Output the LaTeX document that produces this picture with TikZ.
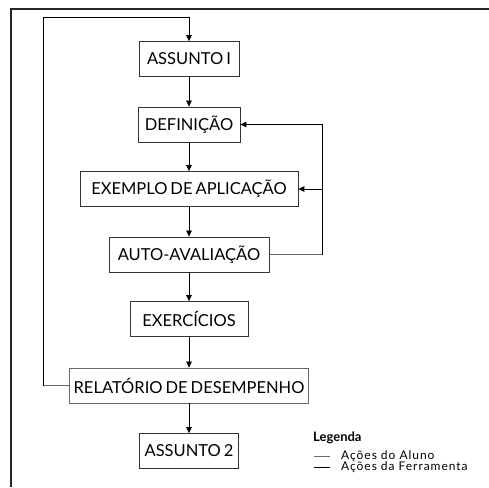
\documentclass[tikz,border=0pt]{standalone}
\usepackage{fontspec}
\setmainfont{Lato}
\usetikzlibrary{arrows.meta}
\newcommand\fontepasso{\fontsize{16.5}{18}\selectfont\spaceskip 3pt plus 1pt\relax}

\begin{document}
\begin{tikzpicture}[x=1pt,y=-1pt,
    passo/.style={draw=black!80, line width=.8pt, minimum height=35pt, inner sep=0pt,
      font=\fontepasso},
    seta/.style={-{Triangle[length=6pt,width=5.5pt]}, line width=.7pt},
    aluno/.style={draw=black!60, line width=.8pt},
    item/.style={anchor=west, inner sep=0pt,
      font={\fontsize{12}{12}\selectfont\addfontfeatures{LetterSpace=8}}}]
  \useasboundingbox (0,0) rectangle (489,487);
  \draw[line width=1.1pt, black!85] (11,487) -- (11,9) -- (489,9);
  % passos do roteiro
  \node[passo, minimum width=100pt] (a1)  at (189,59)    {ASSUNTO I};
  \node[passo, minimum width=102pt] (def) at (189,124.5) {DEFINIÇÃO};
  \node[passo, minimum width=218pt] (ex)  at (189,189)   {EXEMPLO DE APLICAÇÃO};
  \node[passo, minimum width=160pt] (aut) at (189,254.5) {AUTO-AVALIAÇÃO};
  \node[passo, minimum width=118pt] (exe) at (189,319)   {EXERCÍCIOS};
  \node[passo, minimum width=239pt, draw=black!60] (rel) at (189,385.5) {RELATÓRIO DE DESEMPENHO};
  \node[passo, minimum width=99pt]  (a2)  at (189,451)   {ASSUNTO 2};
  \draw[seta] (a1)  -- (def);
  \draw[seta] (def) -- (ex);
  \draw[seta] (ex)  -- (aut);
  \draw[seta] (aut) -- (exe);
  \draw[seta] (exe) -- (rel);
  \draw[seta] (rel) -- (a2);
  % retornos
  \coordinate (vt) at (43,17);
  \coordinate (vd) at (322,254.5);
  \draw[aluno] (rel.west) -- (rel.west -| vt);
  \draw[seta] (rel.west -| vt) -- (vt) -| (a1.north);
  \draw[aluno] (aut.east) -- (vd);
  \draw[seta] (vd) |- (def.east);
  \draw[seta] (vd |- ex.east) -- (ex.east);
  % legenda
  \node[anchor=west, inner sep=0pt, font=\bfseries\fontsize{13}{14}\selectfont] (leg) at (313,438) {Legenda};
  \node[item] (l1) at (341,456) {Ações do Aluno};
  \node[item] (l2) at (341,467) {Ações da Ferramenta};
  \draw[aluno] ([xshift=-11pt]l1.west) -- ++(-16,0);
  \draw[line width=.8pt] ([xshift=-11pt]l2.west) -- ++(-16,0);
\end{tikzpicture}
\end{document}
